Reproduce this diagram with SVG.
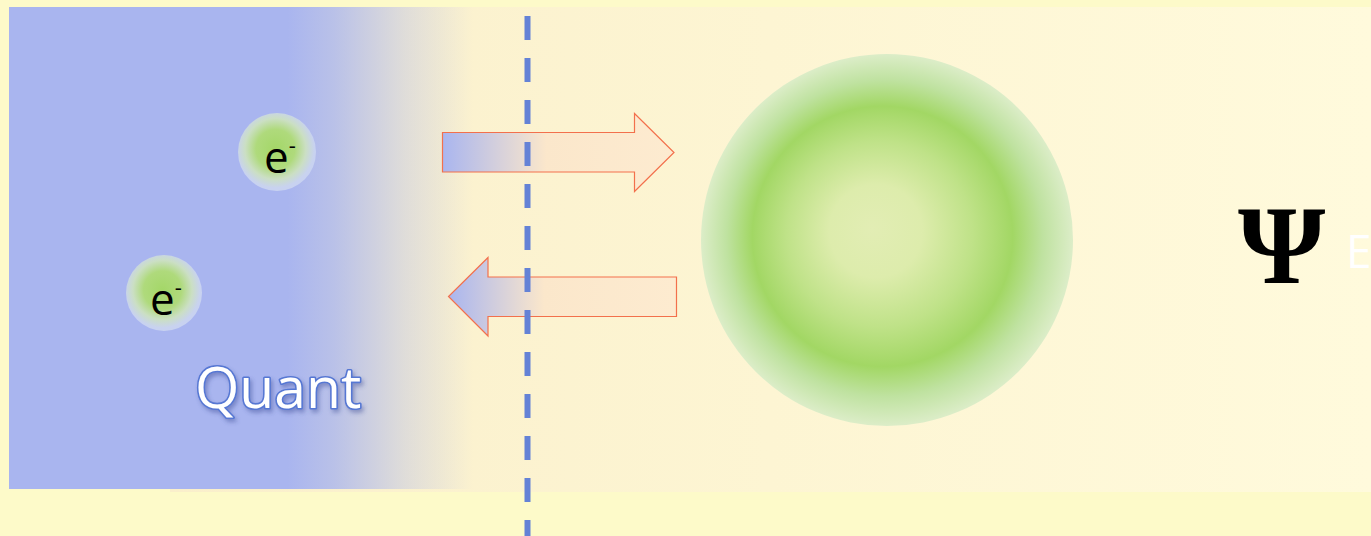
<svg xmlns="http://www.w3.org/2000/svg" width="1371" height="536" viewBox="0 0 1371 536">
  <defs>
    <linearGradient id="creamFill" x1="170" y1="0" x2="1371" y2="0" gradientUnits="userSpaceOnUse">
      <stop offset="0" stop-color="#FAEFCB"/>
      <stop offset="0.5" stop-color="#FDF5D3"/>
      <stop offset="1" stop-color="#FFFADC"/>
    </linearGradient>
    <linearGradient id="blueFade" x1="9" y1="0" x2="473" y2="0" gradientUnits="userSpaceOnUse">
      <stop offset="0" stop-color="#A9B5EF"/>
      <stop offset="0.6" stop-color="#A9B5EF"/>
      <stop offset="0.7" stop-color="#A9B5EF" stop-opacity="0.8"/>
      <stop offset="0.85" stop-color="#A9B5EF" stop-opacity="0.35"/>
      <stop offset="1" stop-color="#A9B5EF" stop-opacity="0"/>
    </linearGradient>
    <linearGradient id="arrowRight" x1="442" y1="0" x2="674" y2="0" gradientUnits="userSpaceOnUse">
      <stop offset="0" stop-color="#A9B5EF"/>
      <stop offset="0.45" stop-color="#FBE7CB"/>
      <stop offset="1" stop-color="#FDEBD0"/>
    </linearGradient>
    <linearGradient id="arrowLeft" x1="448" y1="0" x2="677" y2="0" gradientUnits="userSpaceOnUse">
      <stop offset="0" stop-color="#A9B5EF"/>
      <stop offset="0.42" stop-color="#FBE7CB"/>
      <stop offset="1" stop-color="#FDEBD0"/>
    </linearGradient>
    <radialGradient id="cloud" cx="887" cy="240" r="186" fx="872" fy="228" gradientUnits="userSpaceOnUse">
      <stop offset="0" stop-color="#E2EDB4"/>
      <stop offset="0.25" stop-color="#DDECAC"/>
      <stop offset="0.5" stop-color="#BFE288"/>
      <stop offset="0.7" stop-color="#A2D764"/>
      <stop offset="0.85" stop-color="#BFE2A0"/>
      <stop offset="1" stop-color="#DCEDC8"/>
    </radialGradient>
    <radialGradient id="electron" cx="0.48" cy="0.46" r="0.5">
      <stop offset="0" stop-color="#A4D768"/>
      <stop offset="0.5" stop-color="#AFDA7C"/>
      <stop offset="0.78" stop-color="#CBDFC4"/>
      <stop offset="1" stop-color="#C8D2F0"/>
    </radialGradient>
    <filter id="shadow" x="-10%" y="-20%" width="130%" height="150%">
      <feDropShadow dx="2" dy="3" stdDeviation="2" flood-color="#3A4C96" flood-opacity="0.45"/>
    </filter>
  </defs>
  <style>
    .arrow { stroke: #F3704C; stroke-width: 1.2; }
    .elabel { font-family: "Open Sans", "Noto Sans", sans-serif; font-size: 44px; fill: #000; }
    .sup { font-size: 22px; }
  </style>

  <!-- backdrop -->
  <rect x="0" y="0" width="1371" height="536" fill="#FDFAC9"/>
  <rect x="170" y="7" width="1201" height="485" fill="url(#creamFill)"/>
  <rect x="9" y="7" width="464" height="482" fill="url(#blueFade)"/>

  <!-- exchange arrows -->
  <g id="connectors">
    <path class="arrow" fill="url(#arrowRight)" d="M442.5,132.5 H634.5 V113.5 L674,152.5 L634.5,191.5 V172 H442.5 Z"/>
    <path class="arrow" fill="url(#arrowLeft)" d="M676.5,277 H488 V257.5 L448.5,296.5 L488,336 V316.5 H676.5 Z"/>
  </g>

  <!-- boundary -->
  <g id="boundary">
    <line x1="527.5" y1="16" x2="527.5" y2="536" stroke="#6482D6" stroke-width="6" stroke-dasharray="24 18"/>
  </g>

  <!-- electrons -->
  <g id="electron1">
    <circle cx="277" cy="152" r="39" fill="url(#electron)"/>
    <text class="elabel" x="264" y="173">e<tspan class="sup" dy="-20">-</tspan></text>
  </g>
  <g id="electron2">
    <circle cx="164" cy="293" r="38" fill="url(#electron)"/>
    <text class="elabel" x="150" y="315">e<tspan class="sup" dy="-20">-</tspan></text>
  </g>

  <g id="quant-label">
    <text x="195" y="408" font-family="Open Sans, Noto Sans, sans-serif" font-size="57" fill="#FFFFFF" stroke="#5677D3" stroke-width="3.2" stroke-linejoin="round" paint-order="stroke" filter="url(#shadow)">Quant</text>
  </g>

  <!-- wavefunction -->
  <g id="cloud-node">
    <circle cx="887" cy="240" r="186" fill="url(#cloud)"/>
  </g>

  <g id="psi-label">
    <text x="1238" y="283" font-family="Liberation Serif, serif" font-weight="bold" font-size="112" fill="#000">Ψ</text>
    <text x="1346" y="268" font-family="Open Sans, Noto Sans, sans-serif" font-size="46" fill="#FFFFFF">E</text>
  </g>
</svg>
